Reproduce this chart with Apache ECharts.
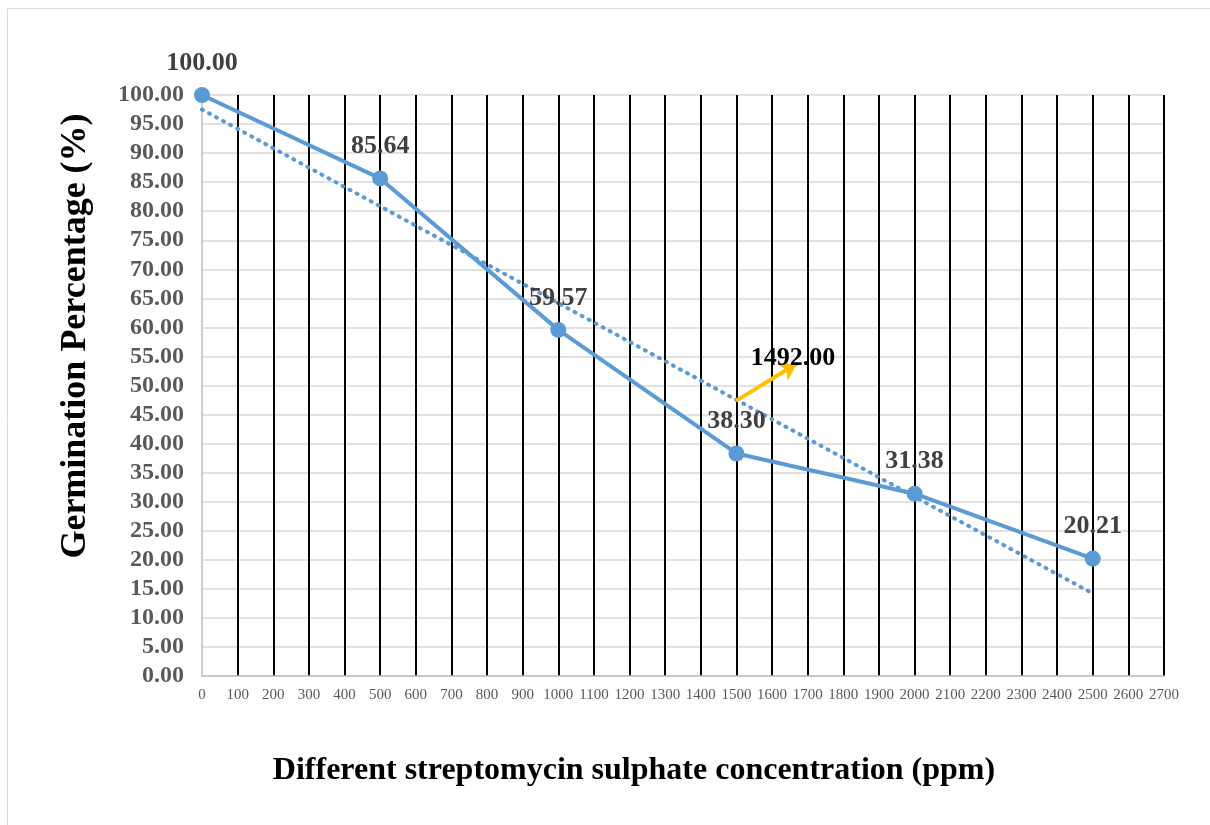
<!DOCTYPE html>
<html>
<head>
<meta charset="utf-8">
<title>Germination Percentage</title>
<script src="https://cdn.jsdelivr.net/npm/echarts@6/dist/echarts.min.js"></script>
<style>
  html, body { margin: 0; padding: 0; background: #fff; }
  #main { width: 1210px; height: 825px; }
</style>
</head>
<body>
<div id="main"></div>
<script>
// data
var concentration = [0, 500, 1000, 1500, 2000, 2500];
var germination = [100.00, 85.64, 59.57, 38.30, 31.38, 20.21];
// linear trend line end points (dotted)
var trendX = [0, 2500];
var trendY = [97.5, 14.2];
// orange arrow + its label
var arrowStart = [1500, 47.4];
var arrowEnd = [1670, 53.8];
var arrowLabel = '1492.00';
var arrowLabelAt = [1659, 54.7];

var xTitle = 'Different streptomycin sulphate concentration (ppm)';
var yTitle = 'Germination Percentage (%)';

var serif = 'Liberation Serif';
var blue = '#5B9BD5';

var lineData = concentration.map(function (x, i) { return [x, germination[i]]; });
var trendData = trendX.map(function (x, i) { return [x, trendY[i]]; });

var chart = echarts.init(document.getElementById('main'));

chart.setOption({
    animation: false,
    backgroundColor: '#fff',
    graphic: [
        {
            type: 'rect',
            shape: { x: 7.5, y: 8.5, width: 1220, height: 840 },
            style: { fill: 'none', stroke: '#d9d9d9', lineWidth: 1 },
            silent: true
        },
        {
            // x axis title
            type: 'text',
            x: 634, y: 771,
            style: {
                text: xTitle, fill: '#000',
                font: 'bold 32px "Liberation Serif"',
                align: 'center', verticalAlign: 'middle'
            },
            silent: true
        },
        {
            // y axis title
            type: 'text',
            x: 76, y: 336,
            rotation: Math.PI / 2,
            style: {
                text: yTitle, fill: '#000',
                font: 'bold 36px "Liberation Serif"',
                align: 'center', verticalAlign: 'middle'
            },
            silent: true
        }
    ],
    grid: { left: 202, right: 46, top: 95, bottom: 149 },
    xAxis: {
        type: 'value',
        min: 0, max: 2700, interval: 100,
        axisLine: { show: true, lineStyle: { color: '#bfbfbf', width: 1.5 } },
        axisTick: { show: false },
        axisLabel: {
            fontFamily: serif, fontSize: 15, color: '#595959', margin: 12,
            formatter: function (v) { return String(v); }
        },
        splitLine: { show: true, showMinLine: false, lineStyle: { color: '#000', width: 2 } }
    },
    yAxis: {
        type: 'value',
        min: 0, max: 100, interval: 5,
        axisLine: { show: true, lineStyle: { color: '#bfbfbf', width: 1.5 } },
        axisTick: { show: false },
        axisLabel: {
            fontFamily: serif, fontWeight: 'bold', fontSize: 24, color: '#595959', margin: 18,
            formatter: function (v) { return v.toFixed(2); }
        },
        splitLine: { show: true, lineStyle: { color: '#d9d9d9', width: 1.5 } }
    },
    series: [
        {
            // trend line
            type: 'line',
            data: trendData,
            symbol: 'none',
            silent: true,
            lineStyle: { color: blue, width: 4, type: [1, 7], cap: 'round' },
            z: 2
        },
        {
            type: 'line',
            data: lineData,
            symbol: 'circle',
            symbolSize: 16,
            itemStyle: { color: blue },
            lineStyle: { color: blue, width: 4 },
            label: {
                show: true,
                position: 'top',
                distance: 11,
                fontFamily: serif,
                fontWeight: 'bold',
                fontSize: 26,
                color: '#404040',
                formatter: function (p) { return p.value[1].toFixed(2); }
            },
            z: 3
        },
        {
            // arrow annotation
            type: 'line',
            data: [],
            silent: true,
            markLine: {
                silent: true,
                symbol: ['none', 'arrow'],
                symbolSize: [15, 17],
                label: { show: false },
                lineStyle: { color: '#FFC000', width: 4, type: 'solid' },
                data: [[{ coord: arrowStart }, { coord: arrowEnd }]]
            },
            markPoint: {
                silent: true,
                symbol: 'circle',
                symbolSize: 0,
                label: {
                    show: true,
                    position: 'inside',
                    fontFamily: serif,
                    fontWeight: 'bold',
                    fontSize: 26,
                    color: '#000',
                    formatter: arrowLabel
                },
                data: [{ coord: arrowLabelAt }]
            },
            z: 4
        }
    ]
});
</script>
</body>
</html>
